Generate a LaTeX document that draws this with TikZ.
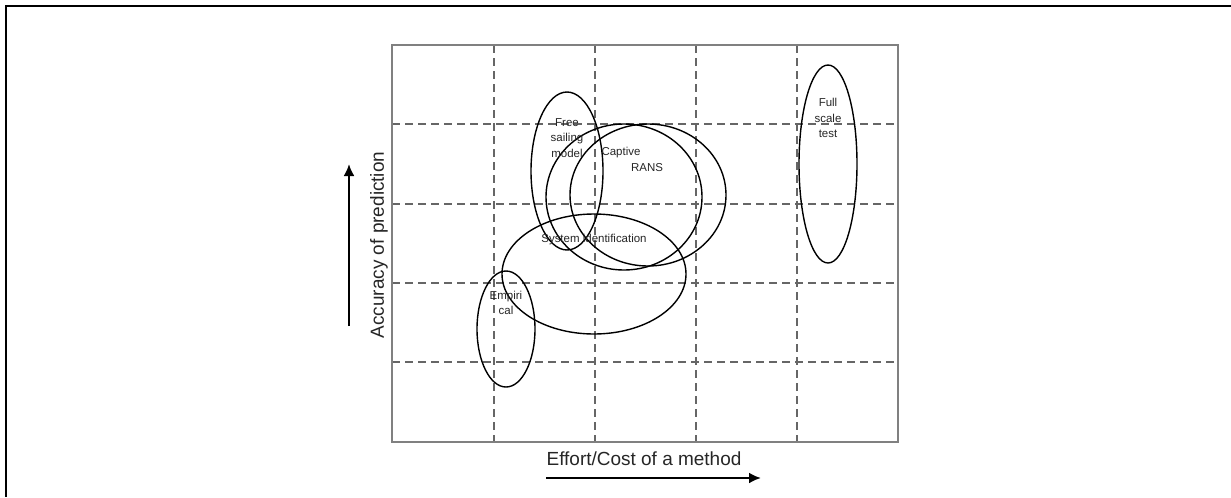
\documentclass[tikz,border=0pt]{standalone}
\usepackage{fontspec}
\setmainfont{Liberation Sans}
\usetikzlibrary{arrows.meta}
\newlength{\du}
\setlength{\du}{0.03cm}
\definecolor{framegray}{rgb}{0.500000, 0.500000, 0.500000}
\definecolor{gridgray}{rgb}{0.400000, 0.400000, 0.400000}
\definecolor{labelgray}{rgb}{0.150000, 0.150000, 0.150000}
\tikzset{
  gridline/.style={draw=gridgray, line width=1.1\du, dash pattern=on 8\du off 5\du},
  region/.style={draw=black, line width=1.4\du},
  smalllabel/.style={font=\fontsize{9.8}{13}\selectfont, text=labelgray, align=center, inner sep=0pt},
  axislabel/.style={font=\fontsize{16.2}{19}\selectfont, text=labelgray, inner sep=0pt},
  axisarrow/.style={draw=black, line width=2.3\du, -{Latex[length=0.36cm, width=0.33cm]}}
}

\begin{document}
\begin{tikzpicture}
\pgftransformxscale{1.000000}
\pgftransformyscale{-1.000000}
\useasboundingbox (0\du,0\du) rectangle (1231\du,497\du);
% outer frame
\draw[line width=1.6\du, black] (1231\du,6\du)--(6\du,6\du)--(6\du,497\du);
% grid
\draw[gridline] (494\du,45\du)--(494\du,442\du);
\draw[gridline] (595\du,45\du)--(595\du,442\du);
\draw[gridline] (696\du,45\du)--(696\du,442\du);
\draw[gridline] (797\du,45\du)--(797\du,442\du);
\draw[gridline] (392\du,124\du)--(898\du,124\du);
\draw[gridline] (392\du,204\du)--(898\du,204\du);
\draw[gridline] (392\du,283\du)--(898\du,283\du);
\draw[gridline] (392\du,362\du)--(898\du,362\du);
\draw[draw=framegray, line width=2.2\du] (392\du,45\du) rectangle (898\du,442\du);
% methods
\draw[region] (567\du,171\du) ellipse [x radius=36\du, y radius=79\du];
\draw[region] (624\du,197\du) ellipse [x radius=78\du, y radius=73\du];
\draw[region] (648\du,195\du) ellipse [x radius=78\du, y radius=71\du];
\draw[region] (594\du,274\du) ellipse [x radius=92\du, y radius=60\du];
\draw[region] (506\du,329\du) ellipse [x radius=29\du, y radius=58\du];
\draw[region] (828\du,164\du) ellipse [x radius=29\du, y radius=99\du];
\node[smalllabel] (freesail) at (567\du,138\du){Free\\sailing\\model};
\node[smalllabel] (captive) at (621\du,153\du){Captive};
\node[smalllabel] (rans) at (647\du,168\du){RANS};
\node[smalllabel] (sysid) at (594\du,240\du){System identification};
\node[smalllabel] (empirical) at (506\du,303\du){Empiri\\cal};
\node[smalllabel] (fullscale) at (828\du,118\du){Full\\scale\\test};
% axes
\node[axislabel, rotate=90] (accuracy) at (379\du,245\du){Accuracy of prediction};
\node[axislabel] (effort) at (644\du,459\du){Effort/Cost of a method};
\coordinate (accfoot) at (349\du,326\du);
\coordinate (acchead) at (349\du,164\du);
\coordinate (effortfoot) at (546\du,478\du);
\coordinate (efforthead) at (761\du,478\du);
\draw[axisarrow] (accfoot)--(acchead);
\draw[axisarrow] (effortfoot)--(efforthead);
\end{tikzpicture}
\end{document}
